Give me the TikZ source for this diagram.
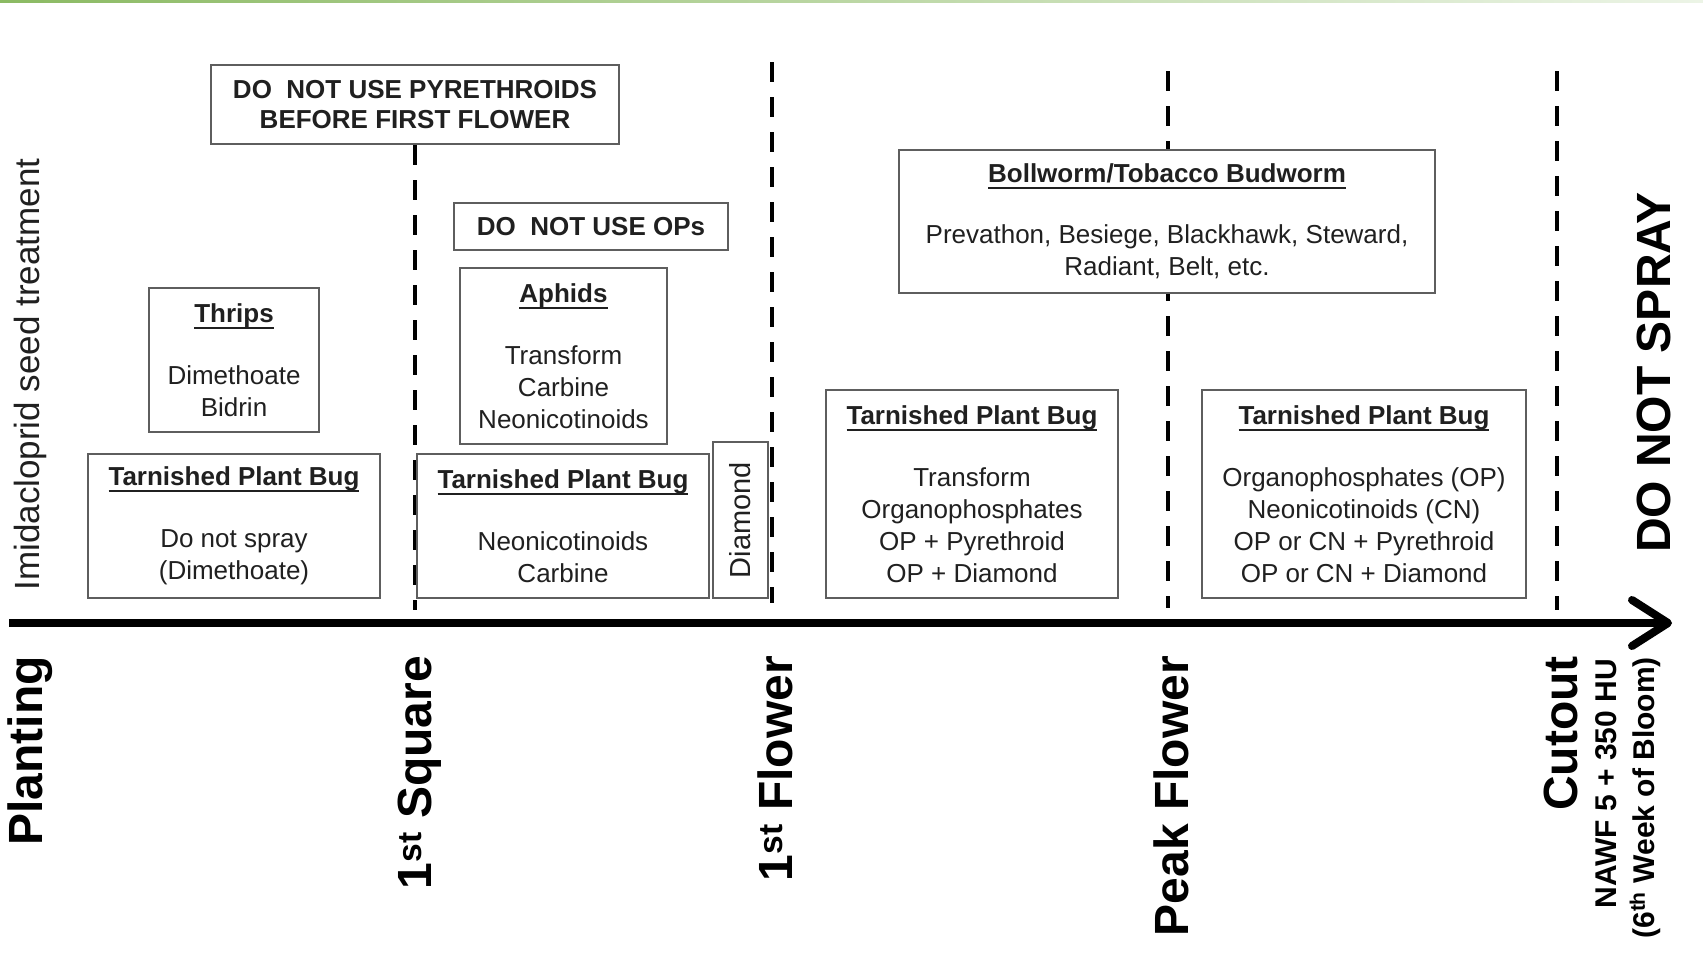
\documentclass[tikz,border=0pt]{standalone}
\usepackage{fontspec}
\setmainfont{Liberation Sans}
\usetikzlibrary{arrows.meta}
\definecolor{txt}{HTML}{202020}
\definecolor{boxc}{HTML}{5E5E5E}
\definecolor{grnA}{RGB}{139,186,99}
\definecolor{grnB}{RGB}{200,224,178}
\definecolor{grnC}{RGB}{236,244,230}
\newsavebox\myulbox
\newcommand\myul[1]{\sbox\myulbox{#1}\rlap{\rule[-6.5pt]{\wd\myulbox}{2pt}}\usebox\myulbox}
\tikzset{
  infobox/.style={draw=boxc, line width=2pt, fill=white, inner sep=0pt, align=center,
    text=txt, font=\fontsize{26}{32}\selectfont},
  warnbox/.style={infobox, font=\bfseries\fontsize{26}{30.5}\selectfont},
  stageline/.style={black, line width=4.5pt, dash pattern=on 20pt off 15pt},
  stagelbl/.style={rotate=90, anchor=base east, inner sep=0pt, text=black,
    font=\bfseries\fontsize{48}{48}\selectfont},
  sublbl/.style={rotate=90, anchor=base east, inner sep=0pt, text=black,
    font=\bfseries\fontsize{30}{30}\selectfont},
}
\begin{document}
\begin{tikzpicture}[x=1pt,y=-1pt]
\useasboundingbox (0,0) rectangle (1703,959);
\fill[white] (0,0) rectangle (1703,959);
\shade[left color=grnA, middle color=grnB, right color=grnC] (0,0) rectangle (1703,2.5);

% top warning box
\node[warnbox, minimum width=408, minimum height=79] (pyr) at (415,104.5)
  {DO~~NOT USE PYRETHROIDS\\BEFORE FIRST FLOWER};

% stage lines
\coordinate (sqb) at (415,610);
\coordinate (f1t) at (772,62);  \coordinate (f1b) at (772,603);
\coordinate (pkt) at (1168,71); \coordinate (pkb) at (1168,608);
\coordinate (cut) at (1557,71); \coordinate (cub) at (1557,610);
\draw[stageline] (pyr.south) -- (sqb);
\draw[stageline] (f1t) -- (f1b);
\draw[stageline] (pkt) -- (pkb);
\draw[stageline] (cut) -- (cub);

% boxes
\node[warnbox, minimum width=274, minimum height=47] (ops) at (591,226.5) {DO~~NOT USE OPs};
\node[infobox, minimum width=207, minimum height=176] (aph) at (563.5,356)
  {\myul{\bfseries Aphids}\\[30pt]Transform\\Carbine\\Neonicotinoids};
\node[infobox, minimum width=170, minimum height=144] (thr) at (234,360)
  {\myul{\bfseries Thrips}\\[30pt]Dimethoate\\Bidrin};
\node[infobox, minimum width=292, minimum height=144] (tpa) at (234,526)
  {\myul{\bfseries Tarnished Plant Bug}\\[30pt]Do not spray\\(Dimethoate)};
\node[infobox, minimum width=292, minimum height=144] (tpb) at (563,526)
  {\myul{\bfseries Tarnished Plant Bug}\\[30pt]Neonicotinoids\\Carbine};
\node[infobox, rotate=90, minimum width=156, minimum height=55,
  font=\fontsize{29}{32}\selectfont] (dia) at (740.5,520) {Diamond};
\node[infobox, minimum width=536, minimum height=143] (bol) at (1167,221.5)
  {\myul{\bfseries Bollworm/Tobacco Budworm}\\[29pt]Prevathon, Besiege, Blackhawk, Steward,\\Radiant, Belt, etc.};
\node[infobox, minimum width=292, minimum height=208] (tpc) at (972,494)
  {\myul{\bfseries Tarnished Plant Bug}\\[30pt]Transform\\Organophosphates\\OP + Pyrethroid\\OP + Diamond};
\node[infobox, minimum width=324, minimum height=208] (tpd) at (1364,494)
  {\myul{\bfseries Tarnished Plant Bug}\\[30pt]Organophosphates (OP)\\Neonicotinoids (CN)\\OP or CN + Pyrethroid\\OP or CN + Diamond};

% side texts
\node[rotate=90, anchor=base, inner sep=0pt, text=txt, font=\fontsize{35}{35}\selectfont]
  (imi) at (39,374.5) {Imidacloprid seed treatment};
\node[rotate=90, anchor=base, inner sep=0pt, text=black, font=\bfseries\fontsize{48}{48}\selectfont]
  (dns) at (1670,372.5) {DO NOT SPRAY};

% axis
\coordinate (axs) at (9,623);
\coordinate (axe) at (1672,623);
\draw[black, line width=8pt, -{Straight Barb[length=36pt, width=46pt, round]}] (axs) -- (axe);

% stage labels
\node[stagelbl] (plant) at (42,656) {Planting};
\node[stagelbl] (sq) at (431,656) {1\textsuperscript{st} Square};
\node[stagelbl] (fl) at (792,656) {1\textsuperscript{st} Flower};
\node[stagelbl] (pk) at (1188,656) {Peak Flower};
\node[stagelbl] (co) at (1577,656) {Cutout};
\node[sublbl] (nawf) at (1616,659) {NAWF 5 + 350 HU};
\node[sublbl] (wk) at (1654,657) {(6\textsuperscript{th} Week of Bloom)};
\end{tikzpicture}
\end{document}
